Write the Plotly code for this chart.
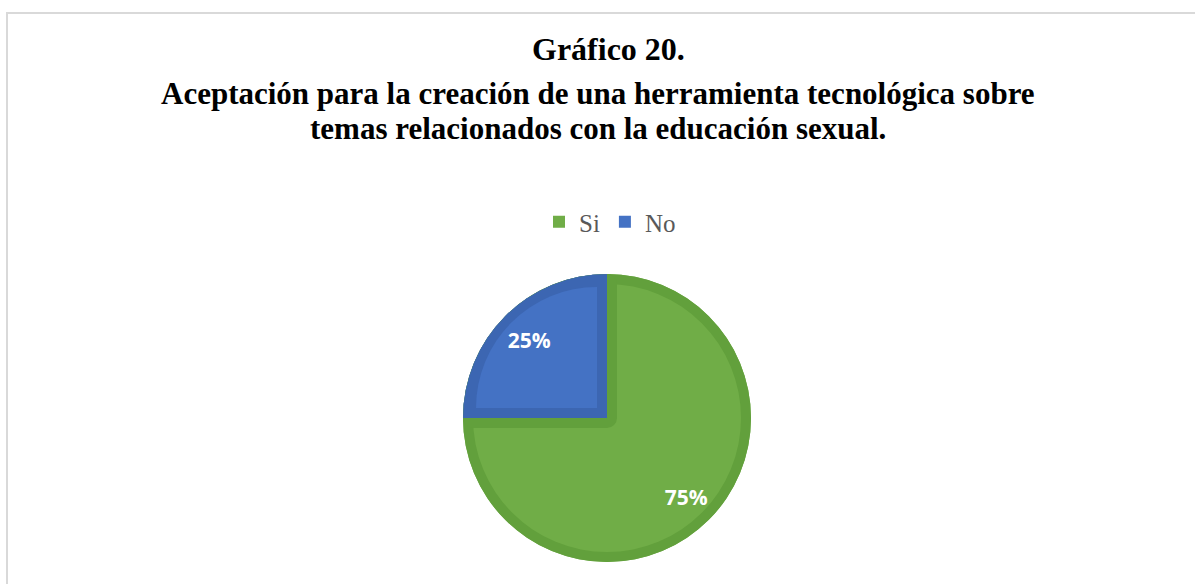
import plotly.graph_objects as go

# Survey answers (percent of respondents)
labels = ["Si", "No"]
values = [75, 25]

fill_colors = ["#70AD47", "#4472C4"]
edge_colors = ["#62A03C", "#3C66B2"]
CLEAR = "rgba(0,0,0,0)"

W, H = 1195, 584
cx, cy = 607, 418      # pie centre in pixels
R_outer = 144          # outer radius, including the darker rim
R_face = 134           # radius of the lighter green face
rim = 10               # rim width along the seams


def square_domain(half):
    return dict(
        x=[(cx - half) / W, (cx + half) / W],
        y=[(H - cy - half) / H, (H - cy + half) / H],
    )


def pie(colors, half, **kw):
    return go.Pie(
        labels=labels, values=values, sort=False, direction="clockwise", rotation=0,
        marker=dict(colors=colors, line=kw.pop("line", dict(width=0))),
        textinfo=kw.pop("textinfo", "none"), hoverinfo="skip",
        showlegend=kw.pop("showlegend", False),
        domain=square_domain(half), **kw,
    )


fig = go.Figure()

# legend entries (hidden underneath the rest)
fig.add_trace(pie(fill_colors, R_outer, showlegend=True))
# darker rim: full pie
fig.add_trace(pie(edge_colors, R_outer))
# lighter green face
fig.add_trace(pie([fill_colors[0], CLEAR], R_face))
# green rim along both seams, stroked from the blue slice outline
fig.add_trace(pie([CLEAR, CLEAR], R_face,
                  line=dict(color=[CLEAR, edge_colors[0]], width=[0, 2 * rim])))
# restore the dark blue rim over its own quarter
fig.add_trace(pie([CLEAR, edge_colors[1]], R_outer))
# lighter blue face, nudged off the seams
blue_r = 121
blue_pull = (rim * 2 ** 0.5) / blue_r
fig.add_trace(pie([CLEAR, fill_colors[1]], blue_r * (1 + blue_pull),
                  pull=[0, blue_pull]))
# percentage labels, pushed out along each slice's bisector
fig.add_trace(pie([CLEAR, CLEAR], 150, pull=[0.974, 0.862],
                  textinfo="percent", textposition="inside",
                  insidetextorientation="horizontal",
                  insidetextfont=dict(family="Open Sans", size=21, color="white",
                                      weight="bold")))

title_lines = [
    ("<b>Gráfico 20.</b>", 608, 49, 32),
    ("<b>Aceptación para la creación de una herramienta tecnológica sobre</b>", 598, 94, 31),
    ("<b>temas relacionados con la educación sexual.</b>", 598, 129, 31),
]
for txt, xpx, ypx, fs in title_lines:
    fig.add_annotation(
        text=txt, x=xpx / W, y=1 - ypx / H, xref="paper", yref="paper",
        xanchor="center", yanchor="middle", showarrow=False,
        font=dict(family="Liberation Serif", size=fs, color="black"),
    )

# outer frame of the chart area
fig.add_shape(
    type="rect", xref="paper", yref="paper",
    x0=7 / W, x1=1.05, y0=-0.05, y1=1 - 13 / H,
    line=dict(color="#D9D9D9", width=2), fillcolor=CLEAR,
)

fig.update_layout(
    width=W, height=H,
    margin=dict(l=0, r=0, t=0, b=0),
    paper_bgcolor="white", plot_bgcolor="white",
    showlegend=True,
    legend=dict(
        orientation="h", x=610 / W, y=1 - 222 / H, xanchor="center", yanchor="middle",
        font=dict(family="Liberation Serif", size=25, color="#595959"),
        itemwidth=30, traceorder="normal",
    ),
)

fig.write_html("out.html")
